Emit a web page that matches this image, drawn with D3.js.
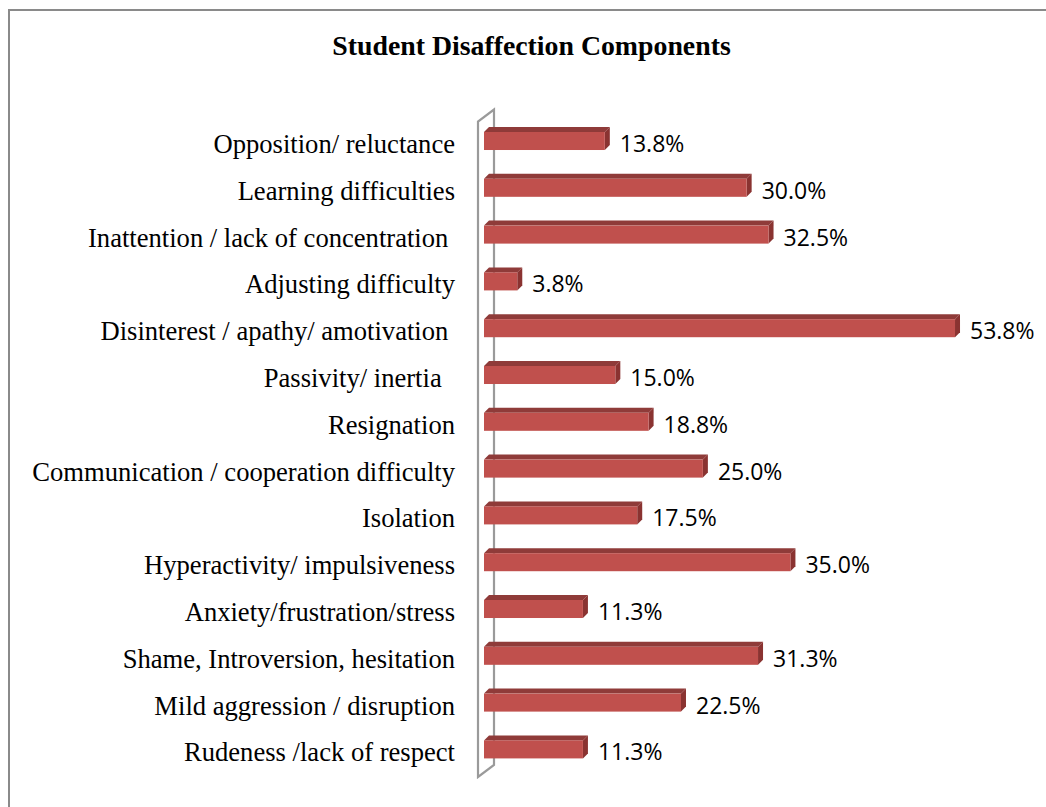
<!DOCTYPE html>
<html>
<head>
<meta charset="utf-8">
<script src="https://cdn.jsdelivr.net/npm/d3@7/dist/d3.min.js"></script>
<style>
  html, body { margin: 0; padding: 0; background: #fff; }
  svg { display: block; }
  text { white-space: pre; }
</style>
</head>
<body>
<svg id="chart" width="1046" height="807"></svg>
<script>
const title = "Student Disaffection Components";
const categories = [
  "Opposition/ reluctance",
  "Learning difficulties",
  "Inattention / lack of concentration ",
  "Adjusting difficulty",
  "Disinterest / apathy/ amotivation ",
  "Passivity/ inertia  ",
  "Resignation",
  "Communication / cooperation difficulty",
  "Isolation",
  "Hyperactivity/ impulsiveness",
  "Anxiety/frustration/stress",
  "Shame, Introversion, hesitation",
  "Mild aggression / disruption",
  "Rudeness /lack of respect"
];
const values = [13.8, 30.0, 32.5, 3.8, 53.8, 15.0, 18.8, 25.0, 17.5, 35.0, 11.3, 31.3, 22.5, 11.3];
const valueLabels = ["13.8%", "30.0%", "32.5%", "3.8%", "53.8%", "15.0%", "18.8%", "25.0%", "17.5%", "35.0%", "11.3%", "31.3%", "22.5%", "11.3%"];
const xDomain = [0, 60];

const svg = d3.select("#chart");

// outer frame
svg.append("rect")
  .attr("x", 9).attr("y", 10)
  .attr("width", 1100).attr("height", 900)
  .attr("fill", "none").attr("stroke", "#8a8a8a").attr("stroke-width", 2);

// title
svg.append("text")
  .attr("x", 531.5).attr("y", 55)
  .attr("text-anchor", "middle")
  .attr("font-family", "'Liberation Serif', 'Times New Roman', serif")
  .attr("font-weight", "bold")
  .attr("font-size", 27.8)
  .attr("fill", "#000")
  .text(title);

const x0 = 484;
const x = d3.scaleLinear().domain(xDomain).range([x0, x0 + 525.3]);
const y = d3.scaleBand().domain(categories)
  .range([117.6, 117.6 + 655.2])
  .paddingInner(0.615).paddingOuter(0.3075);

const bh = y.bandwidth();
const dx = 5, dy = -5;      // bar depth
const wdx = 16, wdy = -12;  // wall depth

// wall (3D axis) outline
const wallTop = 121.5, wallBot = 777;
const wallX = 478;
svg.append("path")
  .attr("d", `M${wallX},${wallBot} L${wallX},${wallTop} L${wallX + wdx},${wallTop + wdy} L${wallX + wdx},${wallBot + wdy} Z`)
  .attr("fill", "none")
  .attr("stroke", "#9a9a9a")
  .attr("stroke-width", 2.2)
  .attr("stroke-linejoin", "miter");

const g = svg.append("g");
const bars = g.selectAll("g.bar").data(categories.map((c, i) => ({c, v: values[i], lab: valueLabels[i]})))
  .enter().append("g").attr("class", "bar");

// top face
bars.append("path")
  .attr("d", d => {
    const yy = y(d.c), xe = x(d.v);
    return `M${x0},${yy} L${x0 + dx},${yy + dy} L${xe + dx},${yy + dy} L${xe},${yy} Z`;
  })
  .attr("fill", "#8f3b39");
// side face
bars.append("path")
  .attr("d", d => {
    const yy = y(d.c), xe = x(d.v);
    return `M${xe},${yy} L${xe + dx},${yy + dy} L${xe + dx},${yy + bh + dy} L${xe},${yy + bh} Z`;
  })
  .attr("fill", "#8a3331");
// front face
bars.append("rect")
  .attr("x", x0)
  .attr("y", d => y(d.c))
  .attr("width", d => x(d.v) - x0)
  .attr("height", bh)
  .attr("fill", "#c0504d");

// value labels
bars.append("text")
  .attr("x", d => x(d.v) + 15)
  .attr("y", d => y(d.c) + bh / 2 + 2)
  .attr("dominant-baseline", "central")
  .attr("font-family", "'Open Sans', Calibri, sans-serif")
  .attr("font-size", 23)
  .attr("fill", "#000")
  .text(d => d.lab);

// category labels
svg.append("g").selectAll("text").data(categories).enter().append("text")
  .attr("x", 455)
  .attr("y", d => y(d) + bh / 2 + 3)
  .attr("dominant-baseline", "central")
  .attr("text-anchor", "end")
  .attr("font-family", "'Liberation Serif', 'Times New Roman', serif")
  .attr("font-size", 26.6)
  .attr("fill", "#000")
  .text(d => d);
</script>
</body>
</html>
